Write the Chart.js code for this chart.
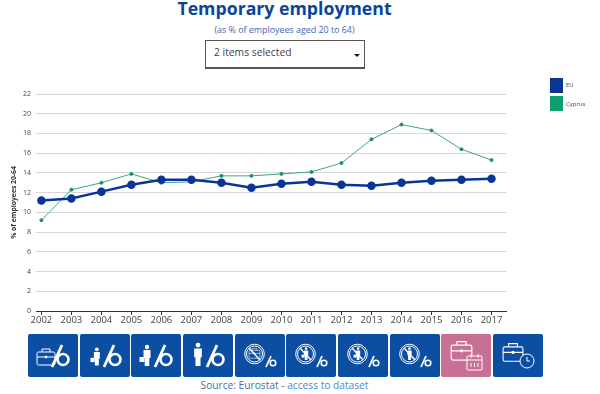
<!DOCTYPE html>
<html>
<head>
<meta charset="utf-8">
<script src="https://cdn.jsdelivr.net/npm/chart.js@4"></script>
<style>
body { margin: 0; background: #fff; font-family: "Open Sans", sans-serif; }
#page { position: relative; width: 600px; height: 394px; overflow: hidden; }
#page > * { position: absolute; }
h1 { margin: 0; left: 0; width: 569px; top: -5px; text-align: center; font-size: 17.7px; line-height: 27px; color: #0b4597; font-weight: 700; }
#sub { left: 0; width: 569px; top: 23px; text-align: center; font-size: 8.9px; line-height: 14px; color: #3c68b0; }
#select { left: 205px; top: 40px; width: 158px; height: 26px; border: 1px solid #555; border-bottom-width: 2px; font-size: 10.3px; line-height: 23px; color: #444; text-indent: 8px; }
#select i { position: absolute; right: 4px; top: 13px; border: 3px solid transparent; border-top: 3px solid #111; }
#wrap { left: 0; top: 70px; width: 600px; height: 260px; }
#legend { left: 550px; top: 76px; font-size: 6px; color: #444; }
#legend div { height: 18.4px; display: flex; align-items: center; gap: 3px; }
#legend b { width: 13px; height: 15px; display: block; }
#buttons { left: 28px; top: 334px; width: 515px; height: 43px; display: flex; justify-content: space-between; }
#buttons div { width: 50px; height: 43px; border-radius: 2px; background: #0b4ea2; }
#buttons div.on { background: #c76f94; }
#buttons svg { display: block; }
#source { left: 0; width: 569px; top: 377px; text-align: center; font-size: 10.2px; line-height: 16px; color: #44709f; }
#source a { color: #3a8de0; text-decoration: none; }
</style>
</head>
<body>
<div id="page">
  <h1>Temporary employment</h1>
  <div id="sub">(as % of employees aged 20 to 64)</div>
  <div id="select">2 items selected<i></i></div>
  <div id="wrap"><canvas id="lineChart"></canvas></div>
  <div id="legend"></div>
  <div id="buttons"></div>
  <div id="source">Source: Eurostat - <a href="#">access to dataset</a></div>
</div>
<script>
var years = [2002, 2003, 2004, 2005, 2006, 2007, 2008, 2009, 2010, 2011, 2012, 2013, 2014, 2015, 2016, 2017];
var euValues = [11.2, 11.4, 12.1, 12.8, 13.3, 13.3, 13.0, 12.5, 12.9, 13.1, 12.8, 12.7, 13.0, 13.2, 13.3, 13.4];
var cyprusValues = [9.2, 12.3, 13.0, 13.9, 13.0, 13.1, 13.7, 13.7, 13.9, 14.1, 15.0, 17.4, 18.9, 18.3, 16.4, 15.3];
var buttonIcons = ['case', 'woman', 'man', 'worker', 'nocase', 'nowoman', 'noman', 'noworker', 'calendar', 'clock'];

function points(values) {
    return values.map(function (v, i) { return { x: years[i], y: v }; });
}

var ctx = document.getElementById('lineChart').getContext('2d');
var myChart = new Chart(ctx, {
    type: 'line',
    data: {
        datasets: [{
            label: 'EU',
            data: points(euValues),
            borderColor: '#0a3595',
            backgroundColor: '#0a3595',
            borderWidth: 2.5,
            pointRadius: 3,
            pointHoverRadius: 3
        }, {
            label: 'Cyprus',
            data: points(cyprusValues),
            borderColor: '#3fa585',
            backgroundColor: '#0f9d6f',
            pointBackgroundColor: '#1d8c68',
            pointBorderColor: '#1d8c68',
            borderWidth: 1,
            pointRadius: 1.5,
            pointHoverRadius: 1.5
        }]
    },
    options: {
        responsive: true,
        maintainAspectRatio: false,
        animation: false,
        layout: { padding: { top: 24, right: 93.5, left: 0, bottom: 0 } },
        plugins: { legend: { display: false }, tooltip: { enabled: false } },
        scales: {
            x: {
                type: 'linear',
                min: 2001.82,
                max: 2017.5,
                afterBuildTicks: function (scale) {
                    scale.ticks = years.map(function (y) { return { value: y }; });
                },
                afterFit: function (scale) { scale.height = 19; },
                grid: { drawOnChartArea: false, tickLength: 4, tickColor: '#333' },
                border: { color: '#333' },
                ticks: {
                    autoSkip: false,
                    maxRotation: 0,
                    padding: 0,
                    color: '#444',
                    font: { family: '"Open Sans"', size: 9.5 },
                    callback: function (v) { return String(v); }
                }
            },
            y: {
                min: 0,
                max: 22,
                afterFit: function (scale) { scale.width = 36; },
                grid: { color: '#d8d8d8', drawTicks: false },
                border: { display: false },
                ticks: {
                    stepSize: 2,
                    padding: 5,
                    color: '#444',
                    font: { family: '"Open Sans"', size: 7 }
                },
                title: {
                    display: true,
                    text: '% of employees 20-64',
                    color: '#333',
                    padding: { top: 10, bottom: 0 },
                    font: { family: '"Open Sans"', size: 6.8, weight: 'bold' }
                }
            }
        }
    }
});

// legend sits far from the plot, so it is built next to the canvas
document.getElementById('legend').innerHTML = myChart.data.datasets.map(function (d) {
    return '<div><b style="background:' + d.backgroundColor + '"></b>' + d.label + '</div>';
}).join('');

// small line drawings for the indicator buttons
var shapes = {
    briefcase: '<rect x="-9" y="-6" width="18" height="13" rx="1.5"/><path d="M-4-6v-3h8v3M-9-1h18"/><circle cx="0" cy="-1" r="1" fill="#fff"/>',
    person: '<circle cx="0" cy="-9" r="2.2" fill="#fff" stroke="none"/><path d="M-3.5-6h7v8h-1.2v8h-4.6v-8h-1.2z" fill="#fff" stroke="none"/>',
    carrier: '<circle cx="1" cy="-9" r="2.2" fill="#fff" stroke="none"/><path d="M-2.5-6h7v8h-1.2v8h-4.6v-8h-1.2z" fill="#fff" stroke="none"/><rect x="-6.5" y="1" width="5" height="5" fill="#fff" stroke="none"/>'
};
function bigPercent() {
    return '<path d="M24 33 34 11" stroke-width="2.8"/><circle cx="35" cy="25.5" r="5.5" stroke-width="2.6"/>';
}
function smallPercent() {
    return '<path d="M31 33 36 22" stroke-width="1.8"/><circle cx="38" cy="29" r="2.8" stroke-width="1.6"/>';
}
function place(shape, x, y, scale) {
    return '<g transform="translate(' + x + ' ' + y + ') scale(' + scale + ')">' + shape + '</g>';
}
function banned(shape) {
    return '<circle cx="19.5" cy="20" r="9.8"/><circle cx="19.5" cy="20" r="8"/>' + place(shape, 19.5, 20, 0.6) +
        '<path d="M14 14 25 26" stroke-width="1.4"/>' + smallPercent();
}
var iconSvg = {
    'case': place(shapes.briefcase, 18, 24, 1) + bigPercent(),
    woman: place(shapes.carrier, 16, 23, 0.85) + bigPercent(),
    man: place(shapes.carrier, 15, 22, 1) + bigPercent(),
    worker: place(shapes.person, 15, 21, 1.1) + bigPercent(),
    nocase: banned(shapes.briefcase),
    nowoman: banned(shapes.carrier),
    noman: banned(shapes.carrier),
    noworker: banned(shapes.person),
    calendar: place(shapes.briefcase, 20.5, 18, 1.15) +
        '<rect x="26" y="22" width="15" height="14" rx="1" fill="#c76f94"/><path d="M26 26h15M30 20v4M37 20v4M30 29v4M33.5 29v4M37 29v4"/>',
    clock: place(shapes.briefcase, 20, 19.5, 1.1) +
        '<circle cx="34" cy="27" r="7" fill="#0b4ea2"/><path d="M34 23v4h3"/>'
};
document.getElementById('buttons').innerHTML = buttonIcons.map(function (name) {
    return '<div' + (name === 'calendar' ? ' class="on"' : '') + '><svg width="50" height="43" viewBox="0 0 50 43" fill="none" stroke="#fff" stroke-width="1">' +
        iconSvg[name] + '</svg></div>';
}).join('');
</script>
</body>
</html>
